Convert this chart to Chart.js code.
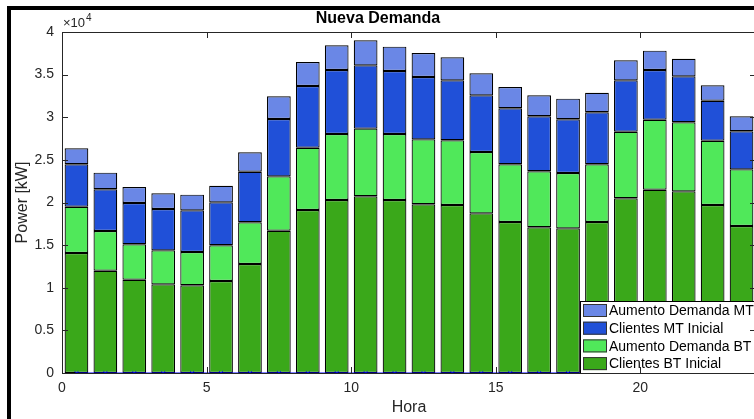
<!DOCTYPE html>
<html>
<head>
<meta charset="utf-8">
<script src="https://cdn.jsdelivr.net/npm/chart.js@4.4.1/dist/chart.umd.min.js"></script>
<style>
  html, body { margin: 0; padding: 0; background: #fff; overflow: hidden; width: 754px; height: 419px; }
  #marco { position: absolute; left: 7px; top: 6px; width: 900px; height: 600px; border-left: 4px solid #000; border-top: 4px solid #000; }
  #caja { position: absolute; left: 0; top: 0; width: 818px; height: 419px; }
</style>
</head>
<body>
<div id="marco"></div>
<div id="caja"><canvas id="nuevaDemanda" width="818" height="419"></canvas></div>
<script>
var horas = [0.5, 1.5, 2.5, 3.5, 4.5, 5.5, 6.5, 7.5, 8.5, 9.5, 10.5, 11.5,
             12.5, 13.5, 14.5, 15.5, 16.5, 17.5, 18.5, 19.5, 20.5, 21.5, 22.5, 23.5];

var clientesBT = [14080, 12000, 10940, 10400, 10290, 10790, 12790, 16690, 19120, 20290, 20730, 20290,
                  19790, 19710, 18730, 17710, 17090, 16970, 17710, 20490, 21500, 21310, 19710, 17240];
var aumentoBT  = [5420, 4660, 4160, 3990, 3900, 4190, 4890, 6380, 7310, 7740, 7930, 7740,
                  7620, 7590, 7190, 6770, 6570, 6490, 6770, 7810, 8210, 8100, 7540, 6650];
var clientesMT = [4980, 4890, 4840, 4850, 4890, 5040, 5930, 6720, 7230, 7510, 7430, 7400,
                  7320, 7030, 6650, 6570, 6450, 6300, 6100, 6030, 5830, 5390, 4690, 4460];
var aumentoMT  = [1880, 1950, 1880, 1840, 1840, 1950, 2280, 2670, 2820, 2900, 2940, 2850,
                  2810, 2700, 2580, 2500, 2460, 2420, 2300, 2350, 2270, 2070, 1810, 1760];
var lineaCero  = [0, 0, 0, 0, 0, 0, 0, 0, 0, 0, 0, 0, 0, 0, 0, 0, 0, 0, 0, 0, 0, 0, 0, 0];

var xTicks = [0, 5, 10, 15, 20];
var fuente = '"Liberation Sans", Arial, Helvetica, sans-serif';
var gris = '#262626';

// leyenda dentro del area, abajo a la derecha (como 'southeast' de matlab)
var leyenda = {
  id: 'leyenda',
  afterDatasetsDraw: function (chart) {
    var ctx = chart.ctx, a = chart.chartArea;
    var items = chart.data.datasets.filter(function (d) { return d.type !== 'line'; }).slice().reverse();
    var left = a.left + 518, top = a.bottom - 72;
    ctx.save();
    ctx.fillStyle = '#fff';
    ctx.fillRect(left, top, a.right - left, a.bottom - top);
    ctx.strokeStyle = '#000';
    ctx.lineWidth = 1;
    ctx.strokeRect(left + 0.5, top + 0.5, a.right - left, a.bottom - top);
    ctx.font = '14px ' + fuente;
    ctx.textBaseline = 'middle';
    items.forEach(function (d, i) {
      var cy = top + 9.5 + i * 17.7;
      ctx.fillStyle = d.backgroundColor;
      ctx.fillRect(left + 3, cy - 6.5, 24, 13);
      ctx.strokeStyle = '#333';
      ctx.strokeRect(left + 3.5, cy - 6, 23, 12);
      ctx.fillStyle = '#000';
      ctx.fillText(d.label, left + 29, cy + 1);
    });
    ctx.restore();
  }
};

// caja de ejes con marcas hacia adentro y el x10^4
var ejes = {
  id: 'ejes',
  afterDraw: function (chart) {
    var ctx = chart.ctx, a = chart.chartArea;
    var sx = chart.scales.x, sy = chart.scales.y;
    ctx.save();
    ctx.strokeStyle = gris;
    ctx.lineWidth = 1;
    ctx.strokeRect(a.left + 0.5, a.top + 0.5, a.right - a.left, a.bottom - a.top);
    ctx.beginPath();
    xTicks.forEach(function (v) {
      var px = Math.round(sx.getPixelForValue(v)) + 0.5;
      ctx.moveTo(px, a.bottom); ctx.lineTo(px, a.bottom - 6);
      ctx.moveTo(px, a.top); ctx.lineTo(px, a.top + 6);
    });
    sy.ticks.forEach(function (t) {
      var py = Math.round(sy.getPixelForValue(t.value)) + 0.5;
      ctx.moveTo(a.left, py); ctx.lineTo(a.left + 6, py);
      ctx.moveTo(a.right, py); ctx.lineTo(a.right - 6, py);
    });
    ctx.stroke();
    ctx.fillStyle = gris;
    ctx.font = '13px ' + fuente;
    ctx.textBaseline = 'alphabetic';
    ctx.fillText('\u00d710', a.left + 1, a.top - 5);
    var w = ctx.measureText('\u00d710').width;
    ctx.font = '10px ' + fuente;
    ctx.fillText('4', a.left + 1 + w + 1, a.top - 11);
    ctx.restore();
  }
};

function barras(label, data, color) {
  return {
    label: label,
    data: data,
    backgroundColor: color,
    borderColor: '#000',
    borderWidth: 1.2,
    borderSkipped: false,
    inflateAmount: 0,
    barPercentage: 0.82,
    categoryPercentage: 1.0
  };
}

var chartDemanda = new Chart(document.getElementById('nuevaDemanda'), {
  type: 'bar',
  data: {
    labels: horas,
    datasets: [
      barras('Clientes BT Inicial', clientesBT, '#3aa81a'),
      barras('Aumento Demanda BT', aumentoBT, '#50e85a'),
      barras('Clientes MT Inicial', clientesMT, '#2050d8'),
      barras('Aumento Demanda MT', aumentoMT, '#6a87e6'),
      {
        type: 'line',
        label: 'cero',
        data: lineaCero,
        order: -1,
        borderColor: '#0000ff',
        borderWidth: 1,
        pointStyle: 'crossRot',
        pointRadius: 2.5,
        pointBorderColor: '#0000ff',
        pointBorderWidth: 1
      }
    ]
  },
  options: {
    responsive: false,
    animation: false,
    layout: { padding: { left: 0, right: 62, top: 0, bottom: 0 } },
    plugins: {
      legend: { display: false },
      tooltip: { enabled: false },
      title: {
        display: true,
        text: 'Nueva Demanda',
        color: '#000',
        font: { family: fuente, size: 16, weight: 'bold' },
        padding: { top: 9, bottom: 3.8 }
      }
    },
    scales: {
      x: {
        type: 'linear',
        stacked: true,
        offset: false,
        min: 0,
        max: 24,
        afterFit: function (s) { s.height = 46; },
        afterBuildTicks: function (s) { s.ticks = xTicks.map(function (v) { return { value: v }; }); },
        grid: { display: false, drawTicks: false, offset: false },
        border: { display: false },
        ticks: { color: gris, padding: 7, font: { family: fuente, size: 14 } },
        title: { display: true, text: 'Hora', color: gris, font: { family: fuente, size: 16 }, padding: { top: 0, bottom: 1.4 } }
      },
      y: {
        stacked: true,
        min: 0,
        max: 40000,
        afterFit: function (s) { s.width = 62; },
        grid: { display: false, drawTicks: false },
        border: { display: false },
        ticks: {
          stepSize: 5000,
          color: gris,
          padding: 8,
          font: { family: fuente, size: 14 },
          callback: function (v) { return String(v / 10000); }
        },
        title: { display: true, text: 'Power [kW]', color: gris, font: { family: fuente, size: 16 }, padding: { top: 13.4, bottom: 0 } }
      }
    }
  },
  plugins: [leyenda, ejes]
});
</script>
</body>
</html>
